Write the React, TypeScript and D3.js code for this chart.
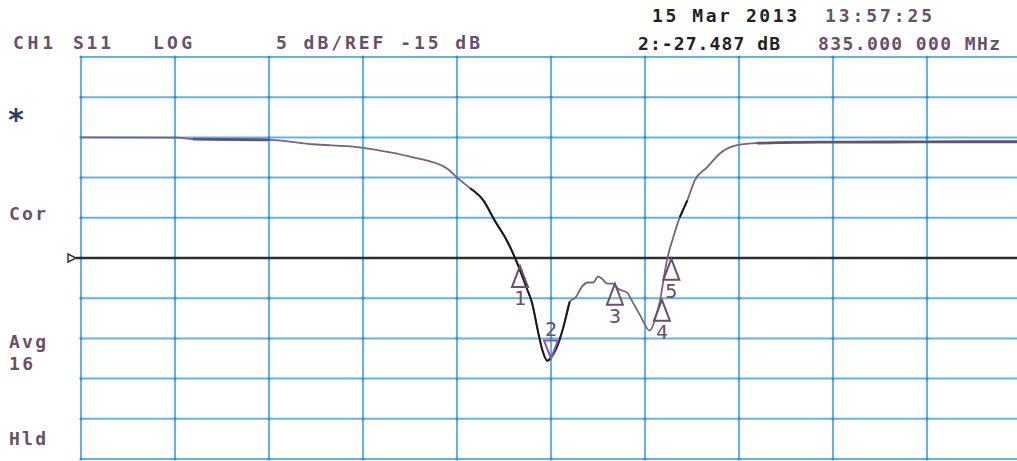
import React from 'react';
import * as d3 from 'd3';

const WIDTH = 1017;
const HEIGHT = 461;
const GRID = { left: 81, right: 1021, top: 57, bottom: 459 };

// trace: x in graticule divisions, y in dB
const traceDiv = [0, 1.02, 1.19, 2.01, 2.47, 2.94, 3.29, 3.53, 3.89, 4.01, 4.14, 4.28, 4.4, 4.53, 4.62, 4.74, 4.8, 4.86, 4.91, 4.96, 4.98, 5.0, 5.06, 5.13, 5.2, 5.26, 5.34, 5.39, 5.45, 5.5, 5.54, 5.6, 5.66, 5.71, 5.81, 5.86, 5.95, 6.05, 6.11, 6.16, 6.21, 6.24, 6.3, 6.37, 6.45, 6.53, 6.66, 6.8, 6.98, 7.19, 7.86, 7.99, 9.0, 10.0];
const traceDb = [0.0, -0.04, -0.22, -0.31, -0.85, -1.2, -1.85, -2.47, -3.84, -5.09, -6.33, -7.83, -10.32, -12.82, -15.06, -18.7, -20.67, -24.04, -26.53, -27.78, -27.66, -27.4, -26.16, -23.67, -20.42, -19.92, -18.42, -18.05, -18.05, -17.3, -17.55, -18.18, -18.18, -18.8, -19.3, -20.3, -22.17, -24.04, -22.5, -20.3, -16.8, -14.94, -12.44, -9.95, -7.83, -5.34, -3.72, -1.97, -0.97, -0.72, -0.6, -0.6, -0.55, -0.54];
// stretches that print darker (steep parts) and heavier (flat parts)
const darkRanges = [[4.05, 5.22], [6.33, 6.5]];
const heavyRanges = [[1.19, 2.01], [7.19, 10]];

const markerNames = ['1', '2', '3', '4', '5'];
const markerDiv = [4.67, 5.0, 5.68, 6.18, 6.28];
const markerDb = [-16.0, -27.487, -18.2, -20.2, -15.1];

const REF_DB = -15;
const DB_TICKS = [-40, -35, -30, -25, -20, -15, -10, -5, 0, 5, 10];
const DIV_TICKS = [0, 1, 2, 3, 4, 5, 6, 7, 8, 9, 10];

const GRID_COLOR = '#62b4e6';
const TEXT_COLOR = '#6a4f69';
const TRACE_COLOR = '#7b6180';
const MONO = '"DejaVu Sans Mono", "Liberation Mono", monospace';

const x = d3.scaleLinear().domain([0, 10]).range([GRID.left, GRID.right]);
const y = d3.scaleLinear().domain([-40, 10]).range([GRID.bottom, GRID.top]);

const points = traceDiv.map((d, i) => [d, traceDb[i]] as [number, number]);
const line = d3.line<[number, number]>()
    .x(d => x(d[0]))
    .y(d => y(d[1]))
    .curve(d3.curveMonotoneX);

const sub = (a: number, b: number) => line(points.filter(p => p[0] >= a && p[0] <= b)) || '';

export default function App() {
    return (
        <svg width={WIDTH} height={HEIGHT} style={{ position: 'absolute', left: 0, top: 0, background: '#fff' }}
            fontFamily={MONO} fontWeight="bold">
            <defs>
                <clipPath id="plot">
                    <rect x={0} y={0} width={WIDTH} height={HEIGHT} />
                </clipPath>
            </defs>

            {/* header */}
            <g fill={TEXT_COLOR} fontSize={18}>
                <text x={13} y={49} textLength={40}>CH1</text>
                <text x={73} y={49} textLength={38}>S11</text>
                <text x={153} y={49} textLength={39}>LOG</text>
                <text x={276} y={49} textLength={204}>5 dB/REF -15 dB</text>
                <text x={652} y={22} textLength={145} fill="#222">15 Mar 2013</text>
                <text x={825} y={22} textLength={107}>13:57:25</text>
                <text x={638} y={50} textLength={142} fill="#222">2:-27.487 dB</text>
                <text x={818} y={50} textLength={182}>835.000 000 MHz</text>
            </g>

            {/* side annotations */}
            <g fill={TEXT_COLOR} fontSize={18}>
                <text x={7} y={130} fontSize={30} fill="#2b3a6b">*</text>
                <text x={9} y={220} textLength={37}>Cor</text>
                <text x={9} y={348} textLength={37}>Avg</text>
                <text x={9} y={370} textLength={24}>16</text>
                <text x={9} y={445} textLength={37}>Hld</text>
            </g>

            {/* graticule */}
            <g stroke={GRID_COLOR} strokeWidth={2}>
                {DB_TICKS.map(t => (
                    <line key={'h' + t} x1={GRID.left} x2={WIDTH} y1={y(t)} y2={y(t)} />
                ))}
                {DIV_TICKS.map(t => (
                    <line key={'v' + t} x1={x(t)} x2={x(t)} y1={GRID.top} y2={GRID.bottom} />
                ))}
            </g>
            <g fill="#3f8fd0">
                {DIV_TICKS.flatMap(a => DB_TICKS.map(b => (
                    <circle key={a + '_' + b} cx={x(a)} cy={y(b)} r={1.6} />
                )))}
            </g>

            {/* reference line */}
            <line x1={76} x2={WIDTH} y1={y(REF_DB)} y2={y(REF_DB)} stroke="#2e2e2e" strokeWidth={2.4} />
            <path d={`M68,${y(REF_DB) - 4} L76,${y(REF_DB)} L68,${y(REF_DB) + 4} Z`} fill="#fff" stroke="#333" strokeWidth={1.5} />

            {/* trace */}
            <g clipPath="url(#plot)" fill="none" strokeLinejoin="round">
                <path d={line(points) || ''} stroke={TRACE_COLOR} strokeWidth={1.8} />
                {heavyRanges.map(([a, b], i) => (
                    <path key={'h' + i} d={sub(a, b)} stroke="#5d5578" strokeWidth={2.8} />
                ))}
                {darkRanges.map(([a, b], i) => (
                    <path key={'d' + i} d={sub(a, b)} stroke="#1e1a20" strokeWidth={2} />
                ))}
            </g>

            {/* markers */}
            <g stroke={TEXT_COLOR} strokeWidth={2} fill="none">
                {markerNames.map((m, i) => {
                    const mx = x(markerDiv[i]);
                    const my = y(markerDb[i]);
                    const down = i === 1;
                    const tri = down
                        ? `M${mx},${my} L${mx - 7},${my - 18} L${mx + 7},${my - 18} Z`
                        : `M${mx},${my} L${mx - 8},${my + 21} L${mx + 8},${my + 21} Z`;
                    return (
                        <g key={m}>
                            <path d={tri} stroke={down ? '#7b5fa0' : TEXT_COLOR} />
                            <text x={mx} y={down ? my - 22 : my + 39} textAnchor="middle" stroke="none"
                                fill={TEXT_COLOR} fontSize={20} fontWeight="normal">{m}</text>
                        </g>
                    );
                })}
            </g>
        </svg>
    );
}
